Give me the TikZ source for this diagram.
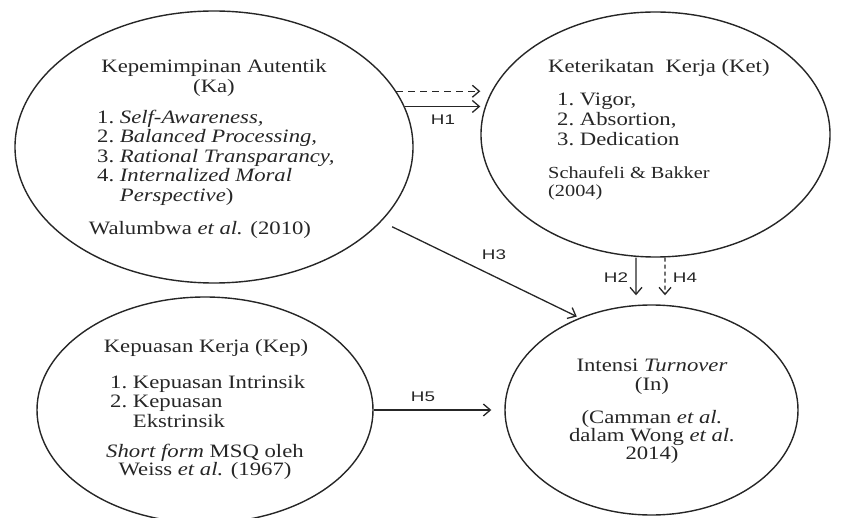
\documentclass[tikz,border=0pt]{standalone}
\usepackage{fontspec}
\setmainfont[FakeStretch=1.2]{Liberation Serif}
\newfontfamily\hypfont[FakeStretch=1.35]{Liberation Sans}
\usepackage{xcolor}
\usepackage{tikz}
\usetikzlibrary{arrows.meta,shapes.geometric}
\definecolor{ink}{HTML}{262626}

\tikzset{
  var/.style={draw=ink, ellipse, line width=1.4bp, inner sep=0pt},
  txt/.style={text=ink, inner sep=0pt, font=\fontsize{19}{19.5}\selectfont},
  small/.style={text=ink, inner sep=0pt, font=\fontsize{17}{18}\selectfont},
  hyp/.style={text=ink, inner sep=0pt, font=\hypfont\fontsize{14}{15}\selectfont},
  link/.style={draw=ink, line width=1.3bp, -{Straight Barb[length=7bp,width=12bp]}},
  dashlink/.style={link, dash pattern=on 7bp off 5bp},
}

\begin{document}
\begin{tikzpicture}[x=1bp, y=-1bp]
\useasboundingbox (0,0) rectangle (846,518);
% the four variables
\foreach \n/\x/\y/\w/\h in {ka/214/147/398/272, ket/655.5/134.5/349/245, kep/205/410/336/226, tov/651.5/410/293/210} {
  \node[var, minimum width=\w bp, minimum height=\h bp] (\n) at (\x,\y) {};
}

% Kepemimpinan Autentik
\node[txt, align=center] (kaTitle) at (214,78) {Kepemimpinan Autentik\\(Ka)};
\node[txt, align=left, anchor=north west] (kaList) at (97,110)
  {1.\ \textit{Self-Awareness,}\\2.\ \textit{Balanced Processing,}\\3.\ \textit{Rational Transparancy,}\\4.\ \textit{Internalized Moral}\\\phantom{4.\ }\textit{Perspective})};
\node[txt] (kaSrc) at (200,230) {Walumbwa \textit{et al.} (2010)};

% Keterikatan Kerja
\node[txt, anchor=west] (ketTitle) at (548,68) {Keterikatan\ \ Kerja (Ket)};
\node[txt, align=left, anchor=north west, font=\fontsize{19}{20}\selectfont] (ketList) at (557,93)
  {1.\ Vigor,\\2.\ Absortion,\\3.\ Dedication};
\node[small, align=left, anchor=north west] (ketSrc) at (548,166) {Schaufeli \& Bakker\\(2004)};

% Kepuasan Kerja
\node[txt] (kepTitle) at (206,348) {Kepuasan Kerja (Kep)};
\node[txt, align=left, anchor=north west] (kepList) at (110,375)
  {1.\ Kepuasan Intrinsik\\2.\ Kepuasan\\\phantom{2.\ }Ekstrinsik};
\node[txt, align=center, font=\fontsize{19}{17}\selectfont] (kepSrc) at (205,462)
  {\textit{Short form} MSQ oleh\\Weiss \textit{et al.} (1967)};

% Intensi Turnover
\node[txt, align=center] (tovTitle) at (652,377) {Intensi \textit{Turnover}\\(In)};
\node[txt, align=center, font=\fontsize{19}{18.5}\selectfont] (tovSrc) at (652,437)
  {(Camman \textit{et al.}\\dalam Wong \textit{et al.}\\2014)};

% hypotheses
\draw[dashlink] (ka.17.5) -- (ka.17.5 -| ket.west);
\draw[link] (ka.12.8) -- (ka.12.8 -| ket.west);
\draw[link, shorten <=12bp, shorten >=3bp] (ka.-24.3) -- (tov.128);
\draw[link] ([xshift=-19.5bp]ket.south) -- ([xshift=-15.5bp, yshift=9bp]tov.north);
\draw[dashlink, dash pattern=on 4bp off 3bp] ([xshift=9.5bp]ket.south) -- ([xshift=13.5bp, yshift=9bp]tov.north);
\draw[link] (kep.east) -- ([xshift=-13bp]tov.west);

\node[hyp] (h1) at (443,120) {H1};
\node[hyp] (h2) at (616,278) {H2};
\node[hyp] (h3) at (494,255) {H3};
\node[hyp] (h4) at (685,278) {H4};
\node[hyp] (h5) at (423,397) {H5};
\end{tikzpicture}
\end{document}
